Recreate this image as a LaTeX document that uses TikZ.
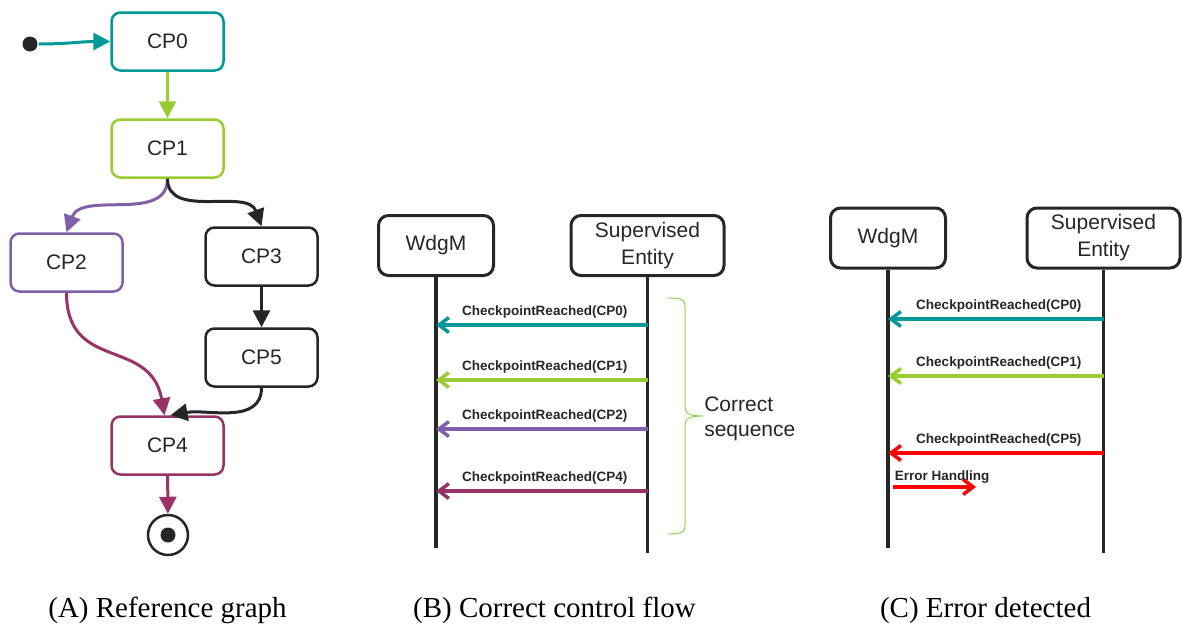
\documentclass[tikz,border=0pt]{standalone}
\usepackage{fontspec}
\setmainfont{Liberation Serif}
\setsansfont{Liberation Sans}
\usetikzlibrary{arrows.meta, positioning, calc}
\definecolor{cteal}{HTML}{00999A}
\definecolor{cgreen}{HTML}{99CC33}
\definecolor{cpurple}{HTML}{7F5FAA}
\definecolor{cmaroon}{HTML}{993366}
\definecolor{cdark}{HTML}{262626}
\definecolor{cred}{HTML}{FF0000}
\definecolor{cbrace}{HTML}{92D050}
\tikzset{
  every picture/.style={line width=2.5pt},
  cpbox/.style={draw=#1, rounded corners=9pt, minimum width=112pt, minimum height=58pt, text=cdark, font=\sffamily\fontsize{21pt}{25pt}\selectfont},
  cpbox/.default=cdark,
  lifebox/.style={draw=cdark, line width=3pt, rounded corners=10pt, minimum height=60pt, align=center, text=cdark, inner sep=2pt, font=\sffamily\fontsize{21pt}{27pt}\selectfont},
  flow/.style={-{Triangle[length=17pt, width=17pt]}, draw=#1, line width=3pt},
  life/.style={draw=cdark, line width=3.5pt},
  msg/.style={-{Straight Barb[length=10pt, width=15pt]}, draw=#1, line width=3.5pt},
  msglabel/.style={font=\sffamily\bfseries\fontsize{13.5pt}{16pt}\selectfont, text=cdark, anchor=base, yshift=10pt, xshift=3pt},
  subcap/.style={font=\fontsize{29pt}{34pt}\selectfont, text=black, anchor=base},
}

\begin{document}
\begin{tikzpicture}[x=1pt, y=-1pt]
  \useasboundingbox (0,0) rectangle (1183,624);

  % (A) reference graph
  \node[circle, fill=cdark, inner sep=0pt, minimum size=15pt] (init) at (30,44) {};
  \node[cpbox=cteal] (cp0) at (167.5,41.5) {CP0};
  \node[cpbox=cgreen] (cp1) at (167.5,148.5) {CP1};
  \node[cpbox=cpurple] (cp2) at (66.5,262.5) {CP2};
  \node[cpbox] (cp3) at (261.5,256.5) {CP3};
  \node[cpbox] (cp5) at (261.5,357.5) {CP5};
  \node[cpbox=cmaroon] (cp4) at (167.5,445.5) {CP4};
  \node[circle, draw=cdark, line width=2.5pt, minimum size=40pt, inner sep=0pt] (final) at (168,535) {};
  \node[circle, fill=cdark, minimum size=15pt, inner sep=0pt] (finaldot) at (final) {};

  \draw[flow=cteal] (init) to[out=0, in=180] (cp0);
  \draw[flow=cgreen] (cp0) -- (cp1);
  \draw[flow=cpurple] (cp1.south) to[out=-90, in=70] (cp2.north);
  \draw[flow=cdark] (cp1.south) to[out=-90, in=110] (cp3.north);
  \draw[flow=cdark] (cp3) -- (cp5);
  \draw[flow=cmaroon] (cp2.south) to[out=-90, in=100, looseness=1.3] ([xshift=-3pt]cp4.north);
  \draw[flow=cdark] (cp5.south) to[out=-90, in=10] ([xshift=3pt]cp4.north);
  \draw[flow=cmaroon] (cp4) -- (final);

  % (B) correct control flow
  \node[lifebox, minimum width=115pt] (wdgB) at (436,245.5) {WdgM};
  \node[lifebox, minimum width=153pt] (seB) at (647.5,245.5) {Supervised\\Entity};
  \coordinate (wdgBend) at (436,548);
  \coordinate (seBend) at (647.5,553);
  \draw[life] (wdgB) -- (wdgBend);
  \draw[life] (seB) -- (seBend);
  \foreach \y/\cp/\col in {325/0/cteal, 380/1/cgreen, 429/2/cpurple, 491/4/cmaroon}{
    \coordinate (lvl) at (0,\y);
    \draw[msg=\col] (seB |- lvl) -- (wdgB |- lvl) node[msglabel, midway] {CheckpointReached(CP\cp)};
  }
  \coordinate (braceTip) at (703,416);
  \draw[cbrace, line width=1pt] (668,298) .. controls (682,298) and (685,300) .. (685,306) -- (685,407)
    .. controls (685,413) and (688,416) .. (braceTip)
    .. controls (688,416) and (685,419) .. (685,425) -- (685,526)
    .. controls (685,532) and (682,534) .. (668,534);
  \node[anchor=west, align=left, inner sep=0pt, text=cdark, font=\sffamily\fontsize{21pt}{25pt}\selectfont] (seqnote) at ([yshift=-3pt]braceTip) {Correct\\sequence};

  % (C) error detected
  \node[lifebox, minimum width=115pt] (wdgC) at (888,238) {WdgM};
  \node[lifebox, minimum width=153pt] (seC) at (1103.5,238) {Supervised\\Entity};
  \coordinate (wdgCend) at (888,548);
  \coordinate (seCend) at (1103.5,553);
  \draw[life] (wdgC) -- (wdgCend);
  \draw[life] (seC) -- (seCend);
  \foreach \y/\cp/\col in {319/0/cteal, 376/1/cgreen, 453/5/cred}{
    \coordinate (lvl) at (0,\y);
    \draw[msg=\col] (seC |- lvl) -- (wdgC |- lvl) node[msglabel, midway] {CheckpointReached(CP\cp)};
  }
  \coordinate (errLvl) at (0,487);
  \coordinate (errEnd) at (976,487);
  \draw[msg=cred] ([xshift=5pt]wdgC |- errLvl) -- (errEnd)
    node[pos=0, anchor=base west, inner sep=0pt, yshift=7pt, text=cdark, font=\sffamily\bfseries\fontsize{13.5pt}{16pt}\selectfont] {Error Handling};

  % captions
  \node[subcap] (capA) at (167.5,617) {(A) Reference graph};
  \node[subcap] (capB) at (554.5,617) {(B) Correct control flow};
  \node[subcap] (capC) at (985.5,617) {(C) Error detected};
\end{tikzpicture}
\end{document}
